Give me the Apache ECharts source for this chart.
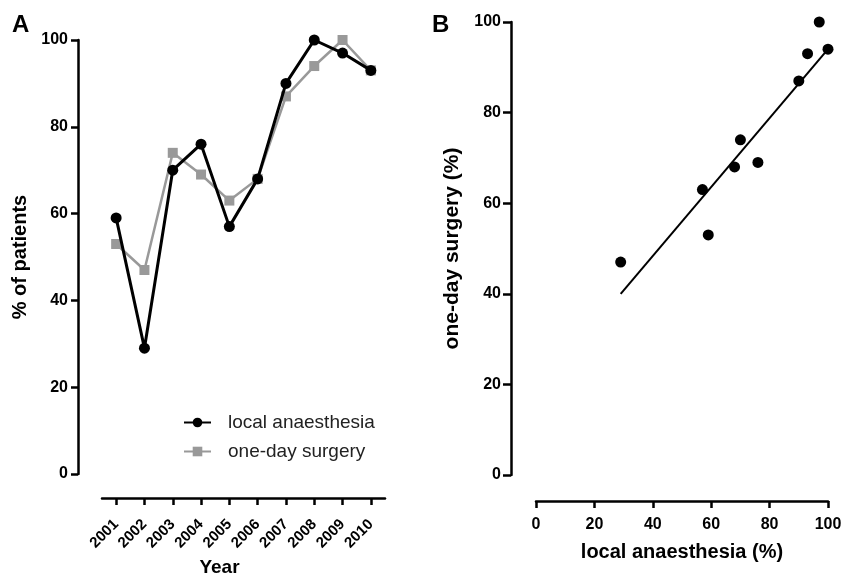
<!DOCTYPE html>
<html><head><meta charset="utf-8">
<script src="https://cdn.jsdelivr.net/npm/echarts@6/dist/echarts.min.js"></script>
<style>html,body{margin:0;padding:0;background:#fff}#c{width:844px;height:575px}</style>
</head><body><div id="c"></div>
<script>
const years = ['2001','2002','2003','2004','2005','2006','2007','2008','2009','2010'];
const localAnaesthesia = [59, 29, 70, 76, 57, 68, 90, 100, 97, 93];
const oneDaySurgery = [53, 47, 74, 69, 63, 68, 87, 94, 100, 93];
const yTicks = [0, 20, 40, 60, 80, 100];
const fitLine = [[29, 40], [100, 94]];

const F = 'Liberation Sans, Arial, Helvetica, sans-serif';
const scatterPts = localAnaesthesia.map((v, i) => [v, oneDaySurgery[i]]);
const lineStyleAxis = {color: '#000', width: 2.5};
const chart = echarts.init(document.getElementById('c'), null, {renderer: 'canvas'});
chart.setOption({
  animation: false,
  backgroundColor: '#fff',
  textStyle: {fontFamily: F},
  graphic: [
    {type: 'text', left: 12, top: 13, style: {text: 'A', font: 'bold 24px ' + F, fill: '#000'}},
    {type: 'text', left: 432, top: 13, style: {text: 'B', font: 'bold 24px ' + F, fill: '#000'}}
  ],
  legend: {
    data: ['local anaesthesia', 'one-day surgery'],
    orient: 'vertical', left: 183, top: 413, padding: 0, itemWidth: 27, itemHeight: 12, itemGap: 10,
    textStyle: {fontFamily: F, fontSize: 19, color: '#222', padding: [0, 0, 0, 12]}
  },
  grid: [
    {left: 102, right: 459, top: 40, bottom: 101, outerBoundsMode: 'none'},
    {left: 536, right: 16, top: 22, bottom: 100, outerBoundsMode: 'none'}
  ],
  xAxis: [
    {
      gridIndex: 0, type: 'category', data: years, boundaryGap: true, offset: 24,
      axisLine: {show: true, onZero: false, lineStyle: lineStyleAxis},
      axisTick: {show: true, alignWithLabel: true, length: 7, lineStyle: lineStyleAxis},
      splitLine: {show: false},
      axisLabel: {color: '#000', fontFamily: F, fontWeight: 'bold', fontSize: 15, rotate: 45, margin: 24, interval: 0},
      name: 'Year', nameLocation: 'middle', nameGap: 60,
      nameTextStyle: {fontFamily: F, fontWeight: 'bold', fontSize: 19, color: '#000', padding: [0, 48, 0, 0]}
    },
    {
      gridIndex: 1, type: 'value', min: 0, max: 100, interval: 20, offset: 26,
      axisLine: {show: true, onZero: false, lineStyle: lineStyleAxis},
      axisTick: {show: true, length: 7, lineStyle: lineStyleAxis},
      splitLine: {show: false},
      axisLabel: {color: '#000', fontFamily: F, fontWeight: 'bold', fontSize: 16, margin: 16},
      name: 'local anaesthesia (%)', nameLocation: 'middle', nameGap: 41,
      nameTextStyle: {fontFamily: F, fontWeight: 'bold', fontSize: 20, color: '#000'}
    }
  ],
  yAxis: [
    {
      gridIndex: 0, type: 'value', min: yTicks[0], max: yTicks[yTicks.length - 1], interval: 20, offset: 24,
      axisLine: {show: true, onZero: false, lineStyle: lineStyleAxis},
      axisTick: {show: true, length: 7, lineStyle: lineStyleAxis},
      splitLine: {show: false},
      axisLabel: {color: '#000', fontFamily: F, fontWeight: 'bold', fontSize: 16, margin: 10},
      name: '% of patients', nameLocation: 'middle', nameGap: 48,
      nameTextStyle: {fontFamily: F, fontWeight: 'bold', fontSize: 20, color: '#000'}
    },
    {
      gridIndex: 1, type: 'value', min: yTicks[0], max: yTicks[yTicks.length - 1], interval: 20, offset: 25,
      axisLine: {show: true, onZero: false, lineStyle: lineStyleAxis},
      axisTick: {show: true, length: 8, lineStyle: lineStyleAxis},
      splitLine: {show: false},
      axisLabel: {color: '#000', fontFamily: F, fontWeight: 'bold', fontSize: 16, margin: 10},
      name: 'one-day surgery (%)', nameLocation: 'middle', nameGap: 48,
      nameTextStyle: {fontFamily: F, fontWeight: 'bold', fontSize: 21, color: '#000'}
    }
  ],
  series: [
    {name: 'one-day surgery', type: 'line', xAxisIndex: 0, yAxisIndex: 0, data: oneDaySurgery,
     symbol: 'rect', symbolSize: 10, itemStyle: {color: '#999', opacity: 1}, lineStyle: {color: '#999', width: 2.5}, z: 2, clip: false},
    {name: 'local anaesthesia', type: 'line', xAxisIndex: 0, yAxisIndex: 0, data: localAnaesthesia,
     symbol: 'circle', symbolSize: 11, itemStyle: {color: '#000', opacity: 1}, lineStyle: {color: '#000', width: 3}, z: 3, clip: false},
    {name: 'fit', type: 'line', xAxisIndex: 1, yAxisIndex: 1, data: fitLine, symbol: 'none',
     lineStyle: {color: '#000', width: 2}, clip: false},
    {name: 'points', type: 'scatter', xAxisIndex: 1, yAxisIndex: 1, data: scatterPts,
     symbol: 'circle', symbolSize: 11, itemStyle: {color: '#000', opacity: 1}, clip: false}
  ]
});
</script></body></html>
